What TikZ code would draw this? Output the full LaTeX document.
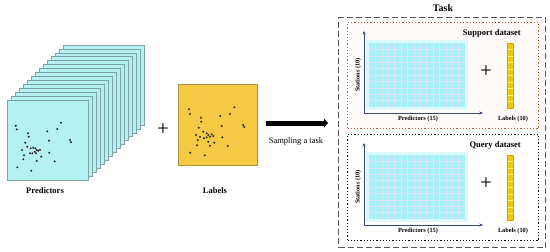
\documentclass[tikz,border=0pt]{standalone}
\usepackage{fontspec}
\setmainfont{Liberation Serif}
\usetikzlibrary{arrows.meta}
\definecolor{cyanfill}{HTML}{B4F1F3}
\definecolor{cyanedge}{HTML}{7FA3A6}
\definecolor{goldfill}{HTML}{F5C944}
\definecolor{goldedge}{HTML}{A89440}
\definecolor{gridfill}{HTML}{A6F0F6}
\definecolor{gridpale}{HTML}{DDF9FB}
\definecolor{gridline}{HTML}{D9E8F8}
\definecolor{barfill}{HTML}{F0C60A}
\definecolor{baredge}{HTML}{D4A800}
\definecolor{axiscol}{HTML}{34497A}
\definecolor{supportdot}{HTML}{C0602E}
\definecolor{taskdash}{HTML}{5A5656}
\tikzset{
  layer/.style={draw=cyanedge, fill=cyanfill, line width=0.6pt},
  labsq/.style={draw=goldedge, fill=goldfill, line width=0.8pt},
  dotm/.style={fill=black!85},
  capt/.style={font=\fontsize{8.5}{10}\selectfont\bfseries, inner sep=0pt},
  small/.style={font=\fontsize{6.3}{7}\selectfont\bfseries, inner sep=0pt},
  plussign/.style={font=\fontsize{21}{21}\selectfont, inner sep=0pt},
  axis/.style={draw=axiscol, line width=0.8pt, -{Stealth[length=3.5pt,width=3pt]}},
  gl/.style={draw=gridline, line width=0.5pt},
  bl/.style={draw=yellow!55!white, line width=0.3pt},
}
\begin{document}
\begin{tikzpicture}[x=1pt,y=-1pt]
\useasboundingbox (0,0) rectangle (550,252);
% ---- predictor stack ----
\foreach \i in {14,13,...,1}{
  \draw[layer] (7+4*\i,100-3.93*\i) rectangle ++(81,80);
}
\node[layer, minimum width=81pt, minimum height=80pt, anchor=north west, inner sep=0pt] (pred) at (7,100) {};
\foreach \x/\y in {15.7/125.7,16.7/129.3,61/122.7,57.3/129,47.3/131.3,28/133.3,28.7/136.7,49/140.7,70/140,71/142.3,25.3/142.7,27.3/146.7,22/150,30.7/148.3,33.3/147.7,35.3/148.3,36.7/150,34.7/151.7,36/153.3,38.3/150.7,40/150,32.3/153.3,24/155.3,30/153.3,41.3/156.7,49.3/152.7,54.7/161.3,36.7/161,23.3/159.3,17.3/167.3,31.3/170.7}{
  \fill[dotm] (\x,\y) circle (1.1pt);
}
\node[capt] (predlab) at (45,191) {Predictors};
\node[plussign] (plusA) at (163,130) {+};
% ---- labels square ----
\node[labsq, minimum width=79pt, minimum height=81pt, anchor=north west, inner sep=0pt] (lab) at (178,84) {};
\foreach \x/\y in {189/109.3,190/114,234.3/107.3,230/114,201/117.7,220.3/116,201.3/121.7,221.7/126,243.3/125,244.3/127,198.7/127.7,203.3/131.7,196/135,200/136.7,206.7/133.3,208.3/135,210/136.7,211.7/134.3,206.7/137.3,204/138.3,213.3/136,222.3/137.3,197.7/140,208.3/141.7,214.3/142.7,227.7/146,197/145.3,210/145.7,190.3/152.7,204.7/155.3}{
  \fill[dotm] (\x,\y) circle (1.1pt);
}
\node[capt] (lablab) at (215,191) {Labels};
% ---- sampling arrow ----
\coordinate (arrS) at (266,123);
\coordinate (arrE) at (328,123);
\draw[line width=5pt, -{Triangle[length=4pt,width=9pt]}] (arrS) -- (arrE);
\node[font=\fontsize{8.5}{10}\selectfont, inner sep=0pt] (samp) at (296,141) {Sampling a task};
% ---- task box ----
\node[draw=taskdash, dash pattern=on 6pt off 3pt, line width=1.3pt, minimum width=207pt, minimum height=230pt, anchor=north west, inner sep=0pt] (task) at (338,17) {};
\node[font=\fontsize{10}{12}\selectfont\bfseries, inner sep=0pt] (tasklab) at (443,8) {Task};
% ---- datasets ----
\foreach \dy/\ttl/\col/\bg/\nm in {0/Support dataset/supportdot/red!2/sup,112/Query dataset/black/white/qry}{
  \begin{scope}[yshift=-\dy pt]
    \node[draw=\col, dotted, line width=1.2pt, fill=\bg, minimum width=191pt, minimum height=106pt, anchor=north west, inner sep=0pt] (\nm box) at (347,22) {};
    \fill[gridpale] (366,40) rectangle (468,110);
    \fill[gridfill] (369,43) rectangle (465,107);
    \foreach \k in {1,...,14}{ \draw[gl] (369+6.4*\k,43) -- (369+6.4*\k,107); }
    \foreach \k in {1,...,9}{ \draw[gl] (369,43+6.4*\k) -- (465,43+6.4*\k); }
    \coordinate (\nm o) at (364,113);
    \coordinate (\nm t) at (364,31);
    \coordinate (\nm r) at (483,113);
    \draw[axis] (\nm o) -- (\nm t);
    \draw[axis] (\nm o) -- (\nm r);
    \node[small, rotate=90] (\nm st) at (358,75) {Stations (10)};
    \node[small] (\nm pr) at (418,118.5) {Predictors (15)};
    \node[capt, anchor=east] (\nm ttl) at (521,33) {\ttl};
    \node[plussign] (\nm plus) at (486,72) {+};
    \fill[barfill] (507,43) rectangle (513,108);
    \foreach \k in {1,...,9}{ \draw[bl] (507,43+6.5*\k) -- (513,43+6.5*\k); }
    \draw[baredge, line width=0.4pt] (507,43) rectangle (513,108);
    \node[small] (\nm lb) at (513,118.5) {Labels (10)};
  \end{scope}
}
\end{tikzpicture}
\end{document}
